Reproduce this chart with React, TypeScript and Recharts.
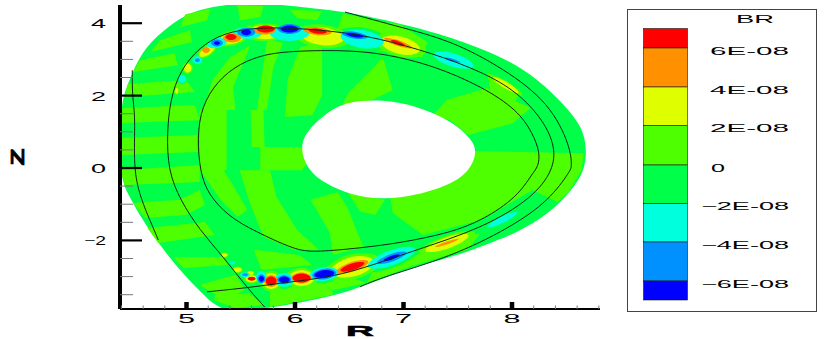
import React from "react";
import { ScatterChart, Scatter, XAxis, YAxis } from "recharts";

type P = [number, number];
type B = [number, number, number, number, number?];

const C = { deep: "#0000ff", blue: "#0091ff", cyan: "#00ffdd", green: "#00ff48", lime: "#4dff00", yellow: "#dfff00", orange: "#ff9100", red: "#ff0000" };

const boundary: P[] = [[5.49,4.56],[5.10,4.40],[4.88,4.03],[4.66,3.47],[4.54,2.92],[4.45,2.26],[4.40,1.80],[4.385,0.77],[4.40,-0.33],[4.46,-0.72],[4.60,-1.47],[4.78,-2.24],[4.97,-2.93],[5.15,-3.48],[5.24,-3.74],[5.34,-3.90],[5.43,-3.96],[5.74,-3.88],[6.05,-3.72],[6.35,-3.53],[6.51,-3.39],[6.81,-3.06],[7.13,-2.70],[7.43,-2.48],[7.73,-2.15],[8.05,-1.79],[8.35,-1.24],[8.55,-0.63],[8.67,-0.06],[8.69,0.50],[8.65,1.13],[8.48,1.76],[8.24,2.45],[7.96,3.00],[7.55,3.50],[7.12,3.89],[6.51,4.31],[6.05,4.45],[5.74,4.55]];
const hole: P[] = [[6.51,1.84],[6.81,1.90],[7.12,1.72],[7.44,1.31],[7.63,0.80],[7.68,0.44],[7.61,-0.08],[7.44,-0.45],[7.12,-0.76],[6.81,-0.88],[6.51,-0.74],[6.29,-0.45],[6.12,-0.08],[6.04,0.58],[6.12,1.08],[6.34,1.64]];

const limeBands: P[][] = [
  [[6.72,2.76],[6.81,3.06],[6.90,2.15],[6.71,1.88],[6.42,1.66],[6.49,2.07]],
  [[5.40,3.06],[5.59,3.39],[5.43,2.24],[5.45,1.60],[5.15,1.60],[5.24,2.43]],
  [[5.74,3.48],[5.91,3.62],[5.80,2.79],[5.74,1.60],[5.65,1.60]],
  [[6.05,3.34],[6.25,3.45],[6.25,2.01],[6.16,1.46],[5.91,1.41],[5.93,2.43]],
  [[5.12,1.60],[5.37,1.60],[5.37,-0.06],[5.12,-0.06]],
  [[5.59,1.60],[5.71,1.60],[5.72,0.58],[5.60,0.58]],
  [[5.68,0.58],[6.07,0.58],[6.14,0.22],[6.06,-0.06],[5.68,-0.06]],
  [[5.47,4.50],[5.71,4.47],[5.68,4.17],[5.49,4.08]],
  [[5.95,4.38],[6.25,4.33],[6.20,4.08],[6.02,4.14]],
  [[6.44,4.26],[6.69,4.13],[6.69,3.81],[6.39,3.81]],
  [[6.60,4.13],[6.97,3.96],[7.22,3.48],[7.17,3.06],[6.74,3.26],[6.58,3.67]],
  [[7.77,2.65],[8.07,2.15],[8.03,1.82],[7.80,2.15]],
  [[7.27,1.46],[7.40,1.88],[7.77,2.21],[8.17,1.66],[8.01,1.24],[7.60,0.91],[7.43,1.32]],
  [[7.65,0.47],[8.66,0.41],[8.64,-0.06],[8.52,-0.66],[8.42,-0.94],[8.19,-0.61],[7.71,-1.44],[7.18,-1.85],[6.90,-1.24],[6.88,-0.83],[7.24,-0.61]],
  [[6.76,-2.62],[7.18,-2.35],[7.71,-1.79],[7.59,-2.25],[7.06,-2.72],[6.66,-3.18]],
  [[6.39,-2.90],[6.66,-3.18],[6.23,-3.45]],
  [[5.12,-0.06],[5.28,0.22],[5.40,-0.33],[5.56,-1.16],[5.47,-1.35],[5.31,-0.88],[5.19,-0.33]],
  [[5.49,-0.06],[5.77,-0.06],[5.83,-0.80],[6.02,-1.71],[6.22,-2.26],[5.99,-2.26],[5.71,-1.90],[5.59,-1.02]],
  [[6.14,-0.88],[6.39,-0.66],[6.48,-1.08],[6.63,-2.18],[6.35,-2.40],[6.32,-1.79],[6.20,-1.16]],
  [[6.49,-0.69],[6.83,-0.88],[6.74,-1.30],[6.60,-1.20]],
  [[5.62,-2.26],[6.04,-2.40],[6.16,-2.68],[5.69,-2.82]],
  [[5.77,-3.23],[6.32,-3.09],[6.35,-3.50],[5.77,-3.84]],
  [[4.57,2.98],[4.89,3.17],[4.92,2.84],[4.51,2.65]],
  [[4.76,3.53],[5.03,3.81],[5.05,3.48],[4.66,3.20]],
  [[4.99,4.25],[5.22,4.40],[5.19,4.08],[4.94,3.89]],
  [[4.46,2.32],[4.99,2.43],[5.08,2.10],[4.43,1.96]],
  [[4.41,1.66],[5.08,1.74],[5.12,1.32],[4.40,1.24]],
  [[4.39,0.83],[5.10,0.91],[5.10,0.44],[4.39,0.36]],
  [[4.39,-0.06],[5.12,0.08],[5.12,-0.39],[4.43,-0.47]],
  [[4.51,-0.97],[4.94,-0.88],[5.12,-0.61],[5.17,-1.02],[4.99,-1.30],[4.62,-1.38]],
  [[4.64,-1.66],[5.17,-1.49],[5.26,-1.85],[4.74,-2.07]],
  [[4.88,-2.46],[5.34,-2.46],[5.38,-2.68],[4.97,-2.76]],
  [[5.12,-3.23],[5.45,-2.95],[5.54,-3.37],[5.35,-3.64]],
  [[5.26,-3.50],[5.58,-3.47],[5.72,-3.78],[5.45,-3.87],[5.26,-3.66]],
];

// blobs: R, Z, half-size in R, half-size in Z, tilt
const yellowBlobs: B[] = [[4.91,2.13,.014,.08],[5.01,2.76,.037,.124],[5.19,3.23,.074,.124,1.5],[5.42,3.59,.12,.166,.6],[5.72,3.75,.175,.193],[6.25,3.64,.20,.25,-.3],[6.97,3.39,.184,.25,-.6],[7.94,2.29,.12,.097,-1.7],[5.35,-2.40,.028,.055],[5.47,-2.81,.037,.07],[5.59,-2.90,.028,.055],[5.60,-3.06,.055,.097],[5.78,-3.12,.083,.22],[6.06,-3.04,.12,.22],[6.53,-2.73,.2,.276,.6],[7.40,-2.07,.2,.166,1]];
const orangeBlobs: B[] = [[5.18,3.26,.037,.083],[5.42,3.59,.083,.124],[5.72,3.81,.10,.124],[6.21,3.78,.13,.11,-.3],[6.95,3.45,.13,.083,-1],[5.78,-3.12,.065,.166],[6.06,-3.04,.092,.15],[6.53,-2.73,.147,.138,.9],[7.40,-2.07,.11,.04,1]];
const redBlobs: B[] = [[5.41,3.62,.051,.083],[5.73,3.84,.083,.097],[6.21,3.78,.083,.07,-.3],[6.95,3.45,.065,.055,-1],[5.60,-3.06,.037,.055],[5.78,-3.12,.05,.124],[6.06,-3.04,.083,.124],[6.53,-2.73,.11,.097,.9]];
const cyanBlobs: B[] = [[4.96,2.46,.037,.11],[5.10,2.98,.046,.11],[5.28,3.45,.092,.138,.5],[5.56,3.73,.138,.166],[5.95,3.73,.184,.22],[6.62,3.56,.20,.25,-.4],[7.46,2.98,.184,.193,-.8],[5.42,-2.62,.028,.055],[5.54,-2.95,.046,.07],[5.69,-3.01,.05,.166],[5.90,-3.09,.092,.193],[6.27,-2.93,.138,.193,.3],[6.89,-2.48,.22,.22,1],[7.91,-1.43,.138,.097,1.4]];
const blueBlobs: B[] = [[5.10,2.98,.023,.055],[5.28,3.45,.055,.097],[5.55,3.75,.083,.124],[5.95,3.84,.11,.138],[6.55,3.67,.12,.097,-.45],[7.45,2.98,.074,.04,-.8],[5.54,-2.95,.028,.04],[5.69,-3.06,.037,.124],[5.90,-3.09,.065,.124],[6.27,-2.93,.11,.15,.3],[6.89,-2.48,.138,.11,1]];
const deepBlobs: B[] = [[5.28,3.45,.028,.055],[5.55,3.75,.046,.083],[5.95,3.84,.083,.097],[6.55,3.67,.083,.055,-.45],[5.69,-3.06,.025,.08],[5.90,-3.09,.05,.09],[6.27,-2.93,.092,.11,.3],[6.89,-2.48,.074,.055,1]];

const surfaceInner: P[] = [[5.10,.58],[5.12,1.52],[5.24,2.24],[5.43,2.79],[5.68,3.12],[5.95,3.23],[6.43,3.26],[6.81,3.17],[7.27,2.84],[7.73,2.24],[8.05,1.60],[8.19,.97],[8.26,.41],[8.24,.03],[8.19,-.14],[8.05,-.80],[7.73,-1.44],[7.43,-1.79],[6.97,-2.07],[6.60,-2.21],[6.20,-2.32],[6.02,-2.28],[5.74,-1.90],[5.43,-1.44],[5.24,-.88],[5.14,-.33]];
const surfaceMiddle: P[] = [[5.19,-3.42],[5.56,-3.31],[5.89,-3.17],[6.35,-3.01],[6.72,-2.68],[7.12,-2.26],[7.73,-1.66],[8.19,-.83],[8.38,-.06],[8.40,.58],[8.29,1.32],[8.05,2.10],[7.73,2.65],[7.27,3.17],[6.76,3.59],[6.44,3.75],[6.05,3.86],[5.65,3.89],[5.34,3.73],[5.12,3.34],[4.94,2.70],[4.85,1.88],[4.82,.97],[4.83,-.06],[4.94,-.88],[5.12,-1.71],[5.34,-2.46],[5.56,-3.31],[5.72,-3.84]];
const surfaceOuter: P[] = [[6.46,4.31],[6.97,3.89],[7.43,3.53],[7.92,2.76],[8.35,1.79],[8.54,.58],[8.55,.03],[8.54,-.06],[8.35,-.88],[7.98,-1.66],[7.43,-2.46],[6.81,-3.01],[6.60,-3.28]];
const surfaceLeft: P[] = [[4.50,2.70],[4.50,1.96],[4.53,1.41],[4.51,.03],[4.57,-.80],[4.69,-1.63],[4.74,-1.99]];

const rTicks = [4.4,4.6,4.8,5,5.2,5.4,5.6,5.8,6,6.2,6.4,6.6,6.8,7,7.2,7.4,7.6,7.8,8,8.2,8.4,8.6,8.8];
const rMajor = [5,6,7,8];
const zTicks = [-3.5,-3,-2.5,-2,-1.5,-1,-.5,0,.5,1,1.5,2,2.5,3,3.5,4];
const zMajor = [-2,0,2,4];

const legendColors = [C.red, C.orange, C.yellow, C.lime, C.green, C.cyan, C.blue, C.deep];
const legendEdges = [28.5,48,87,125.5,165,203.5,242,281,300];
const legendLabels = ["6E-08","4E-08","2E-08","0","-2E-08","-4E-08","-6E-08"];

const rows = (pts: P[]) => pts.map(([r, z]) => ({ r, z }));
const blobRows = ([r, z, a, b, s = 0]: B, grow = 1) => {
  const k = 1.5 * grow;
  return [{ r: r - a * k, z: z - a * k * s }, { r, z: z - b * k }, { r: r + a * k, z: z + a * k * s }, { r, z: z + b * k }];
};
const NoDot = () => null;

const XTick = (p: any) => {
  const v = p.payload.value;
  const major = rMajor.includes(v);
  return (
    <g>
      {major
        ? <line x1={p.x} x2={p.x} y1={p.y - 7} y2={p.y} stroke="#000" strokeWidth={4.5} />
        : <line x1={p.x} x2={p.x} y1={p.y - 3.5} y2={p.y} stroke="#777" strokeWidth={1} />}
      {major && <text x={p.x} y={p.y + 13.5} textAnchor="middle" fontFamily="Liberation Sans" fontSize={12.5} textLength={17} lengthAdjust="spacingAndGlyphs" fill="#000">{v}</text>}
    </g>
  );
};
const YTick = (p: any) => {
  const v = p.payload.value;
  const major = zMajor.includes(v);
  const s = String(v).replace("-", "\u2212");
  return (
    <g>
      {major
        ? <line x1={p.x} x2={p.x + 22} y1={p.y} y2={p.y} stroke="#000" strokeWidth={2.2} />
        : <line x1={p.x} x2={p.x + 13} y1={p.y} y2={p.y} stroke="#777" strokeWidth={1} />}
      {major && <text x={p.x - 14} y={p.y + 5} textAnchor="end" fontFamily="Liberation Sans" fontSize={12.5} textLength={v < 0 ? 22 : 15} lengthAdjust="spacingAndGlyphs" fill="#000">{s}</text>}
    </g>
  );
};
const RLabel = (p: any) => <text x={p.viewBox.x + 240} y={336} textAnchor="middle" fontFamily="Liberation Sans" fontWeight="bold" fontSize={14} textLength={28} lengthAdjust="spacingAndGlyphs" stroke="#000" strokeWidth={0.5} fill="#000">R</text>;
const ZLabel = () => <text transform="translate(24,157) rotate(-90)" textAnchor="middle" fontFamily="Liberation Sans" fontWeight="bold" fontSize={19} textLength={17} lengthAdjust="spacingAndGlyphs" stroke="#000" strokeWidth={0.7} fill="#000">Z</text>;

const Fill = (key: string, data: { r: number; z: number }[], fill: string, joint: string) => (
  <Scatter key={key} data={data} isAnimationActive={false} shape={NoDot} legendType="none" line={{ fill, stroke: "none", strokeWidth: 0 }} lineJointType={joint as any} />
);
const Curve = (key: string, pts: P[], joint: string) => (
  <Scatter key={key} data={rows(pts)} isAnimationActive={false} shape={NoDot} legendType="none" line={{ stroke: "#0a2a14", strokeWidth: 1, fill: "none" }} lineJointType={joint as any} />
);

export default function App() {
  return (
    <div style={{ position: "absolute", left: 0, top: 0, width: 830, height: 339, background: "#fff" }}>
      <ScatterChart width={830} height={339} margin={{ top: 5, right: 230, bottom: 0, left: 0 }}>
        <XAxis type="number" dataKey="r" domain={[4.387, 8.811]} ticks={rTicks} interval={0} allowDataOverflow height={30} tickSize={0} tickMargin={0} tickLine={false} tick={XTick} axisLine={{ stroke: "#000", strokeWidth: 2 }} label={<RLabel />} zIndex={900} />
        <YAxis type="number" dataKey="z" domain={[-3.895, 4.503]} ticks={zTicks} interval={0} allowDataOverflow width={120} tickSize={0} tickMargin={0} tickLine={false} tick={YTick} axisLine={{ stroke: "#000", strokeWidth: 4 }} label={<ZLabel />} zIndex={900} />
        {Fill("base", rows(boundary), C.green, "basisClosed")}
        {limeBands.map((b, i) => Fill("band" + i, rows(b), C.lime, "linearClosed"))}
        {Fill("hole", rows(hole), "#ffffff", "basisClosed")}
        {cyanBlobs.map((b, i) => Fill("gh" + i, blobRows(b, 1.3), C.green, "basisClosed"))}
        {yellowBlobs.map((b, i) => Fill("lh" + i, blobRows(b, 1.3), C.lime, "basisClosed"))}
        {yellowBlobs.map((b, i) => Fill("y" + i, blobRows(b), C.yellow, "basisClosed"))}
        {cyanBlobs.map((b, i) => Fill("c" + i, blobRows(b), C.cyan, "basisClosed"))}
        {orangeBlobs.map((b, i) => Fill("o" + i, blobRows(b), C.orange, "basisClosed"))}
        {blueBlobs.map((b, i) => Fill("b" + i, blobRows(b), C.blue, "basisClosed"))}
        {redBlobs.map((b, i) => Fill("r" + i, blobRows(b), C.red, "basisClosed"))}
        {deepBlobs.map((b, i) => Fill("d" + i, blobRows(b), C.deep, "basisClosed"))}
        {Curve("inner", surfaceInner, "basisClosed")}
        {Curve("middle", surfaceMiddle, "basis")}
        {Curve("outer", surfaceOuter, "basis")}
        {Curve("left", surfaceLeft, "basis")}
      </ScatterChart>
      <svg width={830} height={339} style={{ position: "absolute", left: 0, top: 0, pointerEvents: "none" }}>
        <rect x={627.5} y={9.5} width={189} height={302} fill="#fff" stroke="#444" strokeWidth={1} />
        {legendColors.map((c, i) => (
          <rect key={c} x={643.5} y={legendEdges[i]} width={44} height={legendEdges[i + 1] - legendEdges[i]} fill={c} stroke="#1a1a1a" strokeWidth={0.6} />
        ))}
        <text x={736} y={23} fontFamily="Liberation Sans" fontSize={10.5} textLength={38} lengthAdjust="spacingAndGlyphs" fill="#000">BR</text>
        {legendLabels.map((t, i) => (
          <text key={t} x={t === "0" ? 711 : 789} y={legendEdges[i + 1] + 6.5} textAnchor={t === "0" ? "start" : "end"} fontFamily="Liberation Sans" fontSize={10.5} textLength={t === "0" ? 14 : t.length === 6 ? 88 : 79} lengthAdjust="spacingAndGlyphs" fill="#000">{t.startsWith("-") ? "\u2212" + t.slice(1) : t}</text>
        ))}
      </svg>
    </div>
  );
}
